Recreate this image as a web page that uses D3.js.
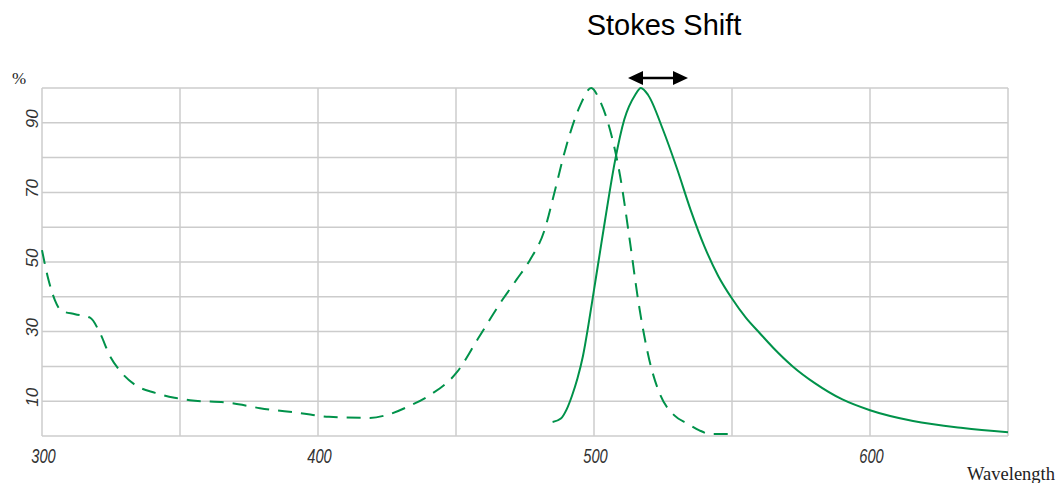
<!DOCTYPE html>
<html>
<head>
<meta charset="utf-8">
<script src="https://cdn.jsdelivr.net/npm/d3@7"></script>
<style>
  body { margin: 0; background: #fff; }
  svg { display: block; }
</style>
</head>
<body>
<div id="app"></div>
<script>
// excitation spectrum (dashed)
const excWavelength = [300, 302, 304.7, 307, 312, 317.4, 321, 324.6, 328, 333.7, 341, 348, 353.6, 368, 379, 393.5, 404, 418.8, 426, 433, 440.6, 450.4, 458, 466.7, 472, 476.8, 482, 485.9, 489.5, 495, 499, 502, 505.8, 509.4, 513, 516, 520, 524, 529, 534, 538, 542, 550];
const excPercent    = [53.4, 46, 39, 36, 35, 34, 29.6, 23, 19, 14.7, 12.4, 11, 10.3, 9.5, 8, 6.6, 5.5, 5.2, 6.3, 8.6, 11.8, 18.4, 28, 39, 45, 50.6, 59, 70.7, 82, 95, 100, 96.6, 88, 75, 56, 39, 22, 11.8, 6, 3.5, 1.7, 0.6, 0.6];
// emission spectrum (solid)
const emWavelength = [485, 488, 490, 492, 494, 496, 498, 500, 502, 504, 507.6, 511, 514.9, 517, 519.6, 525, 530, 535, 540, 545, 550, 555, 560, 565, 572, 580, 590, 600, 615.6, 633.7, 650];
const emPercent    = [4, 5, 7.5, 11.5, 16.5, 23, 32, 42, 52, 62, 79, 91, 98, 100, 98, 88, 77, 65, 54.5, 46, 39.5, 34, 29.6, 25.3, 20, 15.2, 10.5, 7.4, 4.3, 2.3, 1.1];

const xTickLabels = [300, 400, 500, 600];
const yTickLabels = [10, 30, 50, 70, 90];

const width = 1057, height = 483;
const margin = { top: 88, right: 49, bottom: 47, left: 42 };

const svg = d3.select('#app').append('svg')
  .attr('width', width).attr('height', height);

const x = d3.scaleLinear().domain([300, 650]).range([margin.left, width - margin.right]);
const y = d3.scaleLinear().domain([0, 100]).range([height - margin.bottom, margin.top]);

const grid = svg.append('g').attr('stroke', '#cccccc').attr('stroke-width', 1.5);
grid.selectAll('line.v').data(d3.range(300, 651, 50)).join('line')
  .attr('class', 'v')
  .attr('x1', d => x(d)).attr('x2', d => x(d))
  .attr('y1', y(0)).attr('y2', y(100));
grid.selectAll('line.h').data(d3.range(0, 101, 10)).join('line')
  .attr('class', 'h')
  .attr('x1', x(300)).attr('x2', x(650))
  .attr('y1', d => y(d)).attr('y2', d => y(d));

// tick labels (narrow, tall italic digits on the x axis)
svg.selectAll('text.xt').data(xTickLabels).join('text')
  .attr('class', 'xt')
  .attr('transform', d => `translate(${x(d) + 1.5},${height - margin.bottom + 27}) scale(0.7,1)`)
  .attr('text-anchor', 'middle')
  .attr('font-family', 'Liberation Sans, Arial, sans-serif')
  .attr('font-style', 'italic').attr('font-size', 21).attr('fill', '#333')
  .text(d => d);

svg.selectAll('text.yt').data(yTickLabels).join('text')
  .attr('class', 'yt')
  .attr('transform', d => `translate(${margin.left - 4},${y(d) - 4}) rotate(-90)`)
  .attr('text-anchor', 'middle')
  .attr('font-family', 'Liberation Sans, Arial, sans-serif')
  .attr('font-style', 'italic').attr('font-size', 17).attr('fill', '#333')
  .text(d => d);

svg.append('text').attr('x', 12).attr('y', 84)
  .attr('font-family', 'Liberation Serif, Times New Roman, serif')
  .attr('font-size', 17).attr('fill', '#222').text('%');

svg.append('text').attr('x', 1055).attr('y', 480).attr('text-anchor', 'end')
  .attr('font-family', 'Liberation Serif, Times New Roman, serif')
  .attr('font-size', 18.5).attr('fill', '#222').text('Wavelength');

const line = d3.line().x(d => x(d[0])).y(d => y(d[1])).curve(d3.curveMonotoneX);
const green = '#00924a';

svg.append('path')
  .datum(excWavelength.map((w, i) => [w, excPercent[i]]))
  .attr('fill', 'none').attr('stroke', green).attr('stroke-width', 2)
  .attr('stroke-dasharray', '14,9')
  .attr('d', line);

svg.append('path')
  .datum(emWavelength.map((w, i) => [w, emPercent[i]]))
  .attr('fill', 'none').attr('stroke', green).attr('stroke-width', 2)
  .attr('d', line);

// Stokes shift annotation
svg.append('text').attr('x', 664).attr('y', 35).attr('text-anchor', 'middle')
  .attr('font-family', 'Liberation Sans, Arial, sans-serif')
  .attr('font-size', 29).attr('fill', '#000').text('Stokes Shift');

const ay = 78, ax1 = 628, ax2 = 688;
svg.append('line').attr('x1', ax1 + 12).attr('x2', ax2 - 12)
  .attr('y1', ay).attr('y2', ay).attr('stroke', '#000').attr('stroke-width', 2.5);
svg.append('path').attr('d', `M${ax1},${ay} L${ax1 + 15},${ay - 7} L${ax1 + 15},${ay + 7} Z`).attr('fill', '#000');
svg.append('path').attr('d', `M${ax2},${ay} L${ax2 - 15},${ay - 7} L${ax2 - 15},${ay + 7} Z`).attr('fill', '#000');
</script>
</body>
</html>
